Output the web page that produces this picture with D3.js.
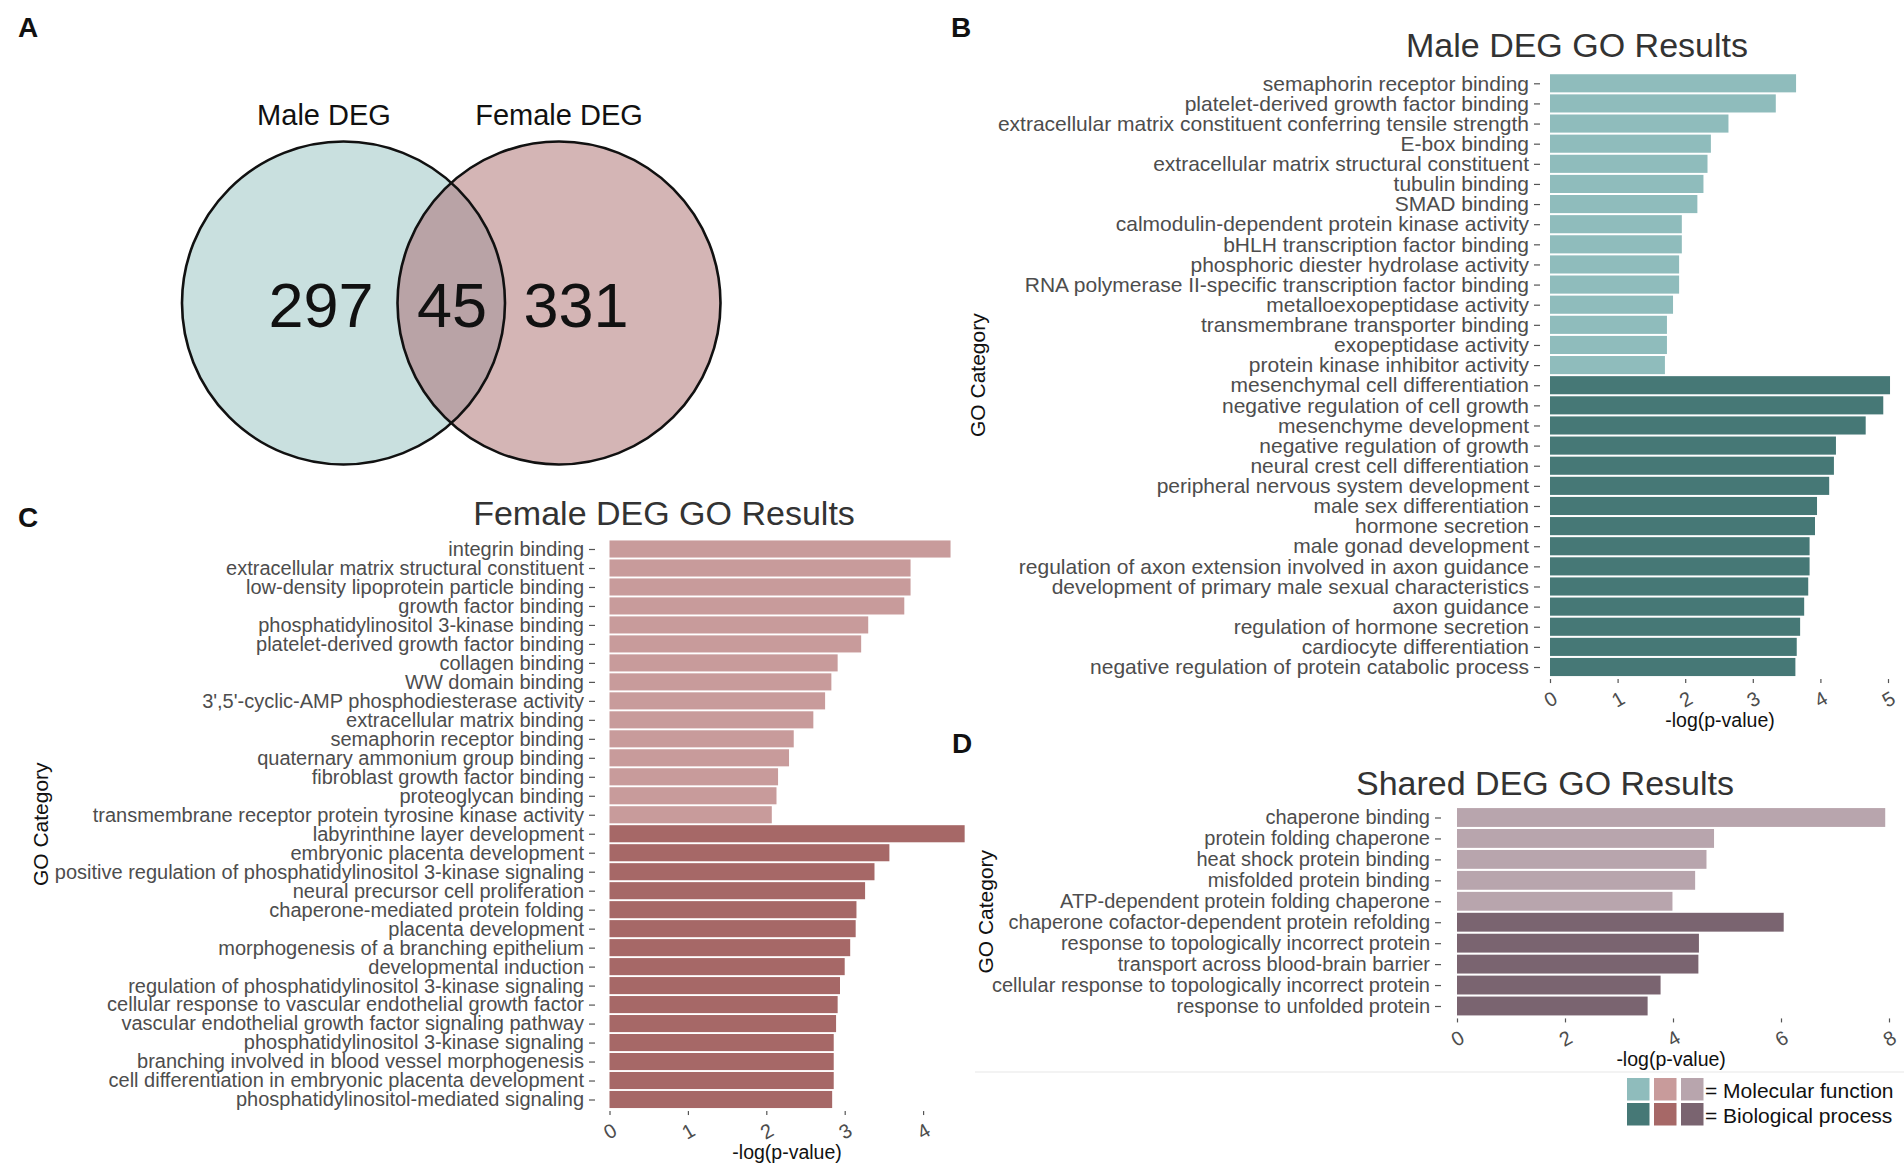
<!DOCTYPE html>
<html>
<head>
<meta charset="utf-8">
<script src="https://cdn.jsdelivr.net/npm/d3@7"></script>
<style>
  body { margin: 0; background: #fff; }
  svg { display: block; font-family: "Liberation Sans", Arial, Helvetica, sans-serif; }
</style>
</head>
<body>
<svg id="chart" width="1904" height="1167"></svg>
<script>
// ---------------- DATA ----------------
const vennSetLabels = ["Male DEG", "Female DEG"];
const vennCounts = [297, 45, 331]; // male only, shared, female only

const maleMFTerms = [
  "semaphorin receptor binding",
  "platelet-derived growth factor binding",
  "extracellular matrix constituent conferring tensile strength",
  "E-box binding",
  "extracellular matrix structural constituent",
  "tubulin binding",
  "SMAD binding",
  "calmodulin-dependent protein kinase activity",
  "bHLH transcription factor binding",
  "phosphoric diester hydrolase activity",
  "RNA polymerase II-specific transcription factor binding",
  "metalloexopeptidase activity",
  "transmembrane transporter binding",
  "exopeptidase activity",
  "protein kinase inhibitor activity"
];
const maleMFValues = [3.64, 3.34, 2.64, 2.38, 2.33, 2.27, 2.18, 1.95, 1.95, 1.91, 1.91, 1.82, 1.73, 1.73, 1.70];
const maleBPTerms = [
  "mesenchymal cell differentiation",
  "negative regulation of cell growth",
  "mesenchyme development",
  "negative regulation of growth",
  "neural crest cell differentiation",
  "peripheral nervous system development",
  "male sex differentiation",
  "hormone secretion",
  "male gonad development",
  "regulation of axon extension involved in axon guidance",
  "development of primary male sexual characteristics",
  "axon guidance",
  "regulation of hormone secretion",
  "cardiocyte differentiation",
  "negative regulation of protein catabolic process"
];
const maleBPValues = [5.03, 4.93, 4.67, 4.23, 4.20, 4.13, 3.95, 3.92, 3.84, 3.84, 3.82, 3.76, 3.70, 3.65, 3.63];

const femaleMFTerms = [
  "integrin binding",
  "extracellular matrix structural constituent",
  "low-density lipoprotein particle binding",
  "growth factor binding",
  "phosphatidylinositol 3-kinase binding",
  "platelet-derived growth factor binding",
  "collagen binding",
  "WW domain binding",
  "3',5'-cyclic-AMP phosphodiesterase activity",
  "extracellular matrix binding",
  "semaphorin receptor binding",
  "quaternary ammonium group binding",
  "fibroblast growth factor binding",
  "proteoglycan binding",
  "transmembrane receptor protein tyrosine kinase activity"
];
const femaleMFValues = [4.35, 3.84, 3.84, 3.76, 3.30, 3.21, 2.91, 2.83, 2.75, 2.60, 2.35, 2.29, 2.15, 2.13, 2.07];
const femaleBPTerms = [
  "labyrinthine layer development",
  "embryonic placenta development",
  "positive regulation of phosphatidylinositol 3-kinase signaling",
  "neural precursor cell proliferation",
  "chaperone-mediated protein folding",
  "placenta development",
  "morphogenesis of a branching epithelium",
  "developmental induction",
  "regulation of phosphatidylinositol 3-kinase signaling",
  "cellular response to vascular endothelial growth factor",
  "vascular endothelial growth factor signaling pathway",
  "phosphatidylinositol 3-kinase signaling",
  "branching involved in blood vessel morphogenesis",
  "cell differentiation in embryonic placenta development",
  "phosphatidylinositol-mediated signaling"
];
const femaleBPValues = [4.53, 3.57, 3.38, 3.26, 3.15, 3.14, 3.07, 3.00, 2.94, 2.91, 2.89, 2.86, 2.86, 2.86, 2.84];

const sharedMFTerms = [
  "chaperone binding",
  "protein folding chaperone",
  "heat shock protein binding",
  "misfolded protein binding",
  "ATP-dependent protein folding chaperone"
];
const sharedMFValues = [7.93, 4.76, 4.62, 4.41, 3.99];
const sharedBPTerms = [
  "chaperone cofactor-dependent protein refolding",
  "response to topologically incorrect protein",
  "transport across blood-brain barrier",
  "cellular response to topologically incorrect protein",
  "response to unfolded protein"
];
const sharedBPValues = [6.05, 4.48, 4.47, 3.77, 3.53];

const maleTicks = [0, 1, 2, 3, 4, 5];
const femaleTicks = [0, 1, 2, 3, 4];
const sharedTicks = [0, 2, 4, 6, 8];

const panelTitles = ["Male DEG GO Results", "Female DEG GO Results", "Shared DEG GO Results"];
const panelLetters = ["A", "B", "C", "D"];
const axisTitleX = "-log(p-value)";
const axisTitleY = "GO Category";
const legendLabels = ["= Molecular function", "= Biological process"];

// ---------------- STYLE ----------------
const colMale = ["#8fbcbc", "#467876"];
const colFemale = ["#c89b9b", "#a66867"];
const colShared = ["#b8a5ad", "#7a6470"];
const labelColor = "#4d4d4d";

const svg = d3.select("#chart");
svg.append("rect").attr("width", 1904).attr("height", 1167).attr("fill", "#fff");

// faint separator
svg.append("line").attr("x1", 975).attr("x2", 1904).attr("y1", 1072).attr("y2", 1072)
  .attr("stroke", "#efefef").attr("stroke-width", 1.5);

// ---------------- PANEL LETTERS ----------------
const letterPos = [[18, 37], [951, 37], [18, 527], [952, 753]];
svg.selectAll("text.letter").data(panelLetters).join("text")
  .attr("class", "letter")
  .attr("x", (d, i) => letterPos[i][0]).attr("y", (d, i) => letterPos[i][1])
  .attr("font-size", 28).attr("font-weight", "bold").attr("fill", "#111")
  .text(d => d);

// ---------------- VENN ----------------
const venn = svg.append("g");
const circles = [{cx: 343.5, cy: 303, r: 161.5, fill: "#c9e0df"}, {cx: 559, cy: 303, r: 161.5, fill: "#d4b5b5"}];
venn.selectAll("circle.fill").data(circles).join("circle")
  .attr("class", "fill").attr("cx", d => d.cx).attr("cy", d => d.cy).attr("r", d => d.r).attr("fill", d => d.fill);
const defs = svg.append("defs");
defs.append("clipPath").attr("id", "clipL").append("circle")
  .attr("cx", circles[0].cx).attr("cy", circles[0].cy).attr("r", circles[0].r);
venn.append("circle").attr("cx", circles[1].cx).attr("cy", circles[1].cy).attr("r", circles[1].r)
  .attr("clip-path", "url(#clipL)").attr("fill", "#b9a3a6");
venn.selectAll("circle.edge").data(circles).join("circle")
  .attr("class", "edge").attr("cx", d => d.cx).attr("cy", d => d.cy).attr("r", d => d.r)
  .attr("fill", "none").attr("stroke", "#111").attr("stroke-width", 2.6);
const setLabelX = [324, 559];
venn.selectAll("text.setlab").data(vennSetLabels).join("text")
  .attr("class", "setlab").attr("x", (d, i) => setLabelX[i]).attr("y", 125)
  .attr("text-anchor", "middle").attr("font-size", 29).attr("fill", "#111").text(d => d);
const countX = [321, 452, 576];
venn.selectAll("text.count").data(vennCounts).join("text")
  .attr("class", "count").attr("x", (d, i) => countX[i]).attr("y", 327)
  .attr("text-anchor", "middle").attr("font-size", 63).attr("fill", "#111").text(d => d);

// ---------------- BAR PANELS ----------------
function barPanel(o) {
  const g = svg.append("g");
  const terms = o.mfTerms.concat(o.bpTerms);
  const vals = o.mfValues.concat(o.bpValues);
  const nMF = o.mfTerms.length;
  const idx = d3.range(terms.length);
  const y = d3.scalePoint().domain(idx).range([o.yFirst, o.yLast]);
  const bh = y.step() * 0.9;
  const xmax = o.ticks[o.ticks.length - 1];
  const x = d3.scaleLinear().domain([0, xmax]).range([o.x0, o.x0 + o.unit * xmax]);

  g.selectAll("rect.bar").data(idx).join("rect")
    .attr("class", "bar")
    .attr("x", x(0)).attr("y", i => y(i) - bh / 2)
    .attr("width", i => x(vals[i]) - x(0)).attr("height", bh)
    .attr("fill", i => i < nMF ? o.colors[0] : o.colors[1]);

  // y axis (category labels)
  const ya = g.append("g").attr("transform", `translate(${o.tickX},0)`)
    .call(d3.axisLeft(y).tickSize(6).tickPadding(5).tickFormat(i => terms[i]));
  ya.select(".domain").remove();
  ya.selectAll(".tick line").attr("stroke", "#555").attr("stroke-width", 1.2);
  ya.selectAll(".tick text").attr("font-size", o.labelSize).attr("fill", labelColor)
    .attr("font-family", "'Liberation Sans', Arial, sans-serif");

  // x axis
  const bottom = o.yLast + bh / 2;
  const xa = g.append("g").attr("transform", `translate(0,${bottom + 3})`)
    .call(d3.axisBottom(x).tickValues(o.ticks).tickSize(4).tickFormat(d3.format("d")));
  xa.select(".domain").remove();
  xa.selectAll(".tick line").attr("stroke", "#555").attr("stroke-width", 1.2);
  xa.selectAll(".tick text")
    .attr("y", 0).attr("dy", null)
    .attr("transform", "translate(0,20) rotate(-30)")
    .attr("dominant-baseline", "central").attr("text-anchor", "middle")
    .attr("font-size", 20).attr("fill", labelColor)
    .attr("font-family", "'Liberation Sans', Arial, sans-serif");

  // axis titles
  const panelLeft = x(0) - 0.05 * d3.max(vals) * o.unit;
  const panelRight = x(0) + 1.05 * d3.max(vals) * o.unit;
  g.append("text").attr("x", (panelLeft + panelRight) / 2).attr("y", bottom + 51)
    .attr("text-anchor", "middle").attr("font-size", 19.5).attr("fill", "#111").text(axisTitleX);
  const midY = (o.yFirst + o.yLast) / 2;
  g.append("text").attr("transform", `translate(${o.goX},${midY}) rotate(-90)`)
    .attr("text-anchor", "middle").attr("dominant-baseline", "central")
    .attr("font-size", 21).attr("fill", "#111").text(axisTitleY);

  // title
  g.append("text").attr("x", o.titleX).attr("y", o.titleY).attr("text-anchor", "middle")
    .attr("font-size", 34).attr("fill", "#333").text(o.title);
}

barPanel({
  mfTerms: maleMFTerms, mfValues: maleMFValues, bpTerms: maleBPTerms, bpValues: maleBPValues,
  ticks: maleTicks, colors: colMale, x0: 1550, unit: 67.6, yFirst: 83.3, yLast: 667,
  tickX: 1540, labelSize: 21, goX: 977, title: panelTitles[0], titleX: 1577, titleY: 57
});
barPanel({
  mfTerms: femaleMFTerms, mfValues: femaleMFValues, bpTerms: femaleBPTerms, bpValues: femaleBPValues,
  ticks: femaleTicks, colors: colFemale, x0: 609.5, unit: 78.4, yFirst: 549, yLast: 1099.5,
  tickX: 595, labelSize: 20, goX: 40, title: panelTitles[1], titleX: 664, titleY: 525
});
barPanel({
  mfTerms: sharedMFTerms, mfValues: sharedMFValues, bpTerms: sharedBPTerms, bpValues: sharedBPValues,
  ticks: sharedTicks, colors: colShared, x0: 1457, unit: 54.0, yFirst: 817.5, yLast: 1006,
  tickX: 1441, labelSize: 20, goX: 985, title: panelTitles[2], titleX: 1545, titleY: 795
});

// ---------------- LEGEND ----------------
const legendRows = [[colMale[0], colFemale[0], colShared[0]], [colMale[1], colFemale[1], colShared[1]]];
const lg = svg.append("g");
legendRows.forEach((row, r) => {
  lg.selectAll(`rect.sw${r}`).data(row).join("rect")
    .attr("class", `sw${r}`)
    .attr("x", (d, i) => 1627 + i * 27).attr("y", 1078 + r * 25)
    .attr("width", 22.5).attr("height", 22.5).attr("fill", d => d);
});
lg.selectAll("text.leg").data(legendLabels).join("text")
  .attr("class", "leg").attr("x", 1705).attr("y", (d, i) => 1090 + i * 25)
  .attr("dominant-baseline", "central").attr("font-size", 21).attr("fill", "#111").text(d => d);
</script>
</body>
</html>
